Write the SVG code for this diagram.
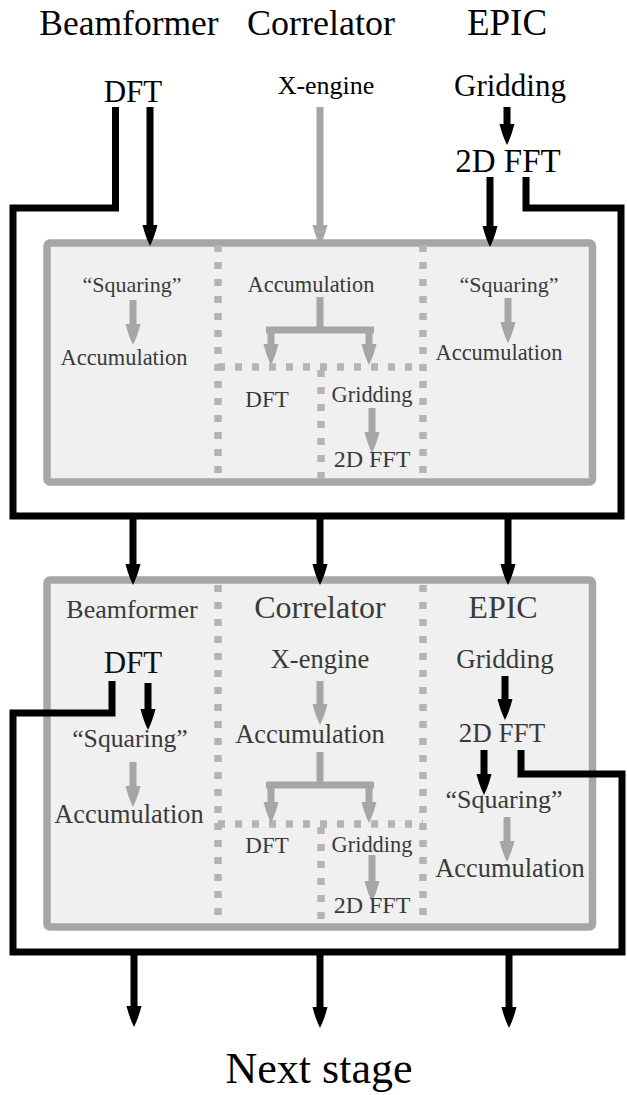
<svg xmlns="http://www.w3.org/2000/svg" width="627" height="1095" viewBox="0 0 627 1095">
<style>
text{font-family:'Liberation Serif','Times New Roman',serif;text-anchor:middle}
.top{fill:#000}
.in{fill:#3a3a3a}
.blk{fill:#111}
.box{fill:#f0f0f0;stroke:#a6a6a6;stroke-width:7.5}
.dot{fill:none;stroke:#b4b4b4;stroke-width:7.5;stroke-dasharray:7 10}
.bl{fill:none;stroke:#000;stroke-width:7}
.gr{fill:none;stroke:#a6a6a6;stroke-width:7}
.ab{marker-end:url(#hb)}
.ag{marker-end:url(#hg)}
</style>
<defs>
<marker id="hb" markerUnits="userSpaceOnUse" orient="auto" viewBox="0 -8 22 16" markerWidth="22" markerHeight="16" refX="1" refY="0">
<path d="M0,-7.5 Q12,-4.5 21,0 Q12,4.5 0,7.5 Z" fill="#000"/>
</marker>
<marker id="hg" markerUnits="userSpaceOnUse" orient="auto" viewBox="0 -8 22 16" markerWidth="22" markerHeight="16" refX="1" refY="0">
<path d="M0,-7.5 Q12,-4.5 21,0 Q12,4.5 0,7.5 Z" fill="#a6a6a6"/>
</marker>
</defs>
<rect width="627" height="1095" fill="#fff"/>

<g id="stage1">
<rect class="box" x="47" y="243" width="545.5" height="239" rx="3"/>
<path class="dot" d="M218,245 V478 M423,245 V478 M218,367 H423 M321,370 V478"/>
</g>
<g id="stage2">
<rect class="box" x="47" y="580" width="545.5" height="347" rx="3"/>
<path class="dot" d="M218,585 V922 M423,585 V922 M218,824 H423 M321,827 V922"/>
</g>

<g id="connectors">
<path class="bl" d="M115.5,107 V208 H13 V516 H621 V208 H526 V177"/>
<path class="bl ab" d="M150,107 V226"/>
<path class="gr ag" d="M320,107 V226"/>
<path class="bl ab" d="M507,107 V125"/>
<path class="bl ab" d="M490,177 V227"/>
<path class="gr ag" d="M133,300 V325"/>
<path class="gr" d="M320,297 V330 M266,330 H374"/>
<path class="gr ag" d="M271,330 V345"/>
<path class="gr ag" d="M369,330 V345"/>
<path class="gr ag" d="M372,408 V433"/>
<path class="gr ag" d="M508,298 V323"/>
<path class="bl ab" d="M133,516 V565"/>
<path class="bl ab" d="M320,516 V565"/>
<path class="bl ab" d="M508,516 V565"/>
<path class="bl" d="M112,681 V713 H13 V952 H622 V774 H521 V750"/>
<path class="bl ab" d="M148,683 V710"/>
<path class="gr ag" d="M133,762 V787"/>
<path class="gr ag" d="M320,681 V705"/>
<path class="gr" d="M320,752 V785 M266,785 H374"/>
<path class="gr ag" d="M271,785 V803"/>
<path class="gr ag" d="M369,785 V803"/>
<path class="gr ag" d="M372,855 V882"/>
<path class="bl ab" d="M505,676 V700"/>
<path class="bl ab" d="M484,750 V775"/>
<path class="gr ag" d="M507,817 V842"/>
<path class="bl ab" d="M134,952 V1007"/>
<path class="bl ab" d="M320,952 V1008"/>
<path class="bl ab" d="M509,952 V1008"/>
</g>

<g id="top-labels">
<text class="top" x="129" y="35" font-size="35.5">Beamformer</text>
<text class="top" x="321" y="35" font-size="36">Correlator</text>
<text class="top" x="507" y="35" font-size="37">EPIC</text>
<text class="top" x="133" y="102" font-size="31">DFT</text>
<text class="top" x="326" y="94" font-size="26">X-engine</text>
<text class="top" x="510" y="96" font-size="31">Gridding</text>
<text class="top" x="508" y="172" font-size="33">2D FFT</text>
</g>

<g id="stage1-labels">
<text class="in" x="132" y="292" font-size="22">“Squaring”</text>
<text class="in" x="124" y="365" font-size="22.4">Accumulation</text>
<text class="in" x="311" y="292" font-size="22.4">Accumulation</text>
<text class="in" x="267" y="407" font-size="23">DFT</text>
<text class="in" x="372" y="402" font-size="22.4">Gridding</text>
<text class="in" x="372" y="467" font-size="24">2D FFT</text>
<text class="in" x="509" y="292" font-size="22">“Squaring”</text>
<text class="in" x="499" y="360" font-size="22.4">Accumulation</text>
</g>

<g id="stage2-labels">
<text class="in" x="132" y="618" font-size="26">Beamformer</text>
<text class="in" x="320" y="618" font-size="32">Correlator</text>
<text class="in" x="503" y="618" font-size="32">EPIC</text>
<text class="blk" x="133" y="673" font-size="31">DFT</text>
<text class="in" x="320" y="668" font-size="26.5">X-engine</text>
<text class="in" x="505" y="668" font-size="27">Gridding</text>
<text class="in" x="130" y="747" font-size="25.7">“Squaring”</text>
<text class="in" x="129" y="823" font-size="26.4">Accumulation</text>
<text class="in" x="310" y="743" font-size="26.4">Accumulation</text>
<text class="in" x="267" y="853" font-size="23">DFT</text>
<text class="in" x="372" y="852" font-size="22.4">Gridding</text>
<text class="in" x="372" y="913" font-size="24">2D FFT</text>
<text class="in" x="502" y="742" font-size="27">2D FFT</text>
<text class="in" x="504" y="808" font-size="26">“Squaring”</text>
<text class="in" x="510" y="877" font-size="26.4">Accumulation</text>
</g>

<g id="next-stage">
<text class="top" x="319" y="1083" font-size="44">Next stage</text>
</g>
</svg>
